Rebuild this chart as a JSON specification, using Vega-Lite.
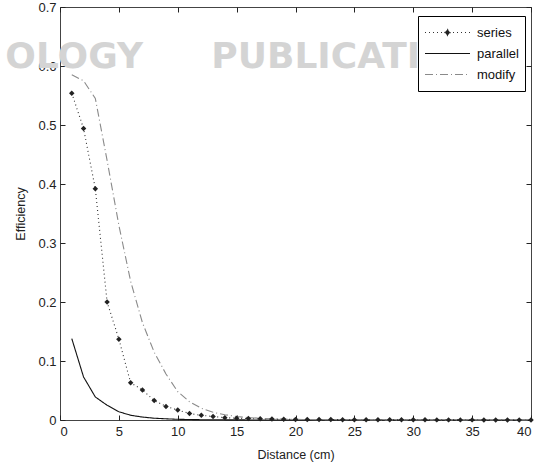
{
  "$schema": "https://vega.github.io/schema/vega-lite/v6.json",
  "width": 471,
  "height": 413,
  "autosize": "none",
  "padding": {"left": 60, "top": 7, "right": 8, "bottom": 45},
  "background": "white",
  "config": {
    "view": {"stroke": "#444", "strokeWidth": 1},
    "font": "Liberation Sans",
    "axis": {"grid": false, "domain": false, "tickColor": "#222", "tickWidth": 1, "labelColor": "#222", "titleColor": "#222", "labelFont": "Liberation Sans", "titleFont": "Liberation Sans", "titleFontWeight": "normal"}
  },
  "data": {"values": [
    {"d":1,"e":0.554,"k":"series"},{"d":2,"e":0.494,"k":"series"},{"d":3,"e":0.392,"k":"series"},{"d":4,"e":0.2,"k":"series"},{"d":5,"e":0.137,"k":"series"},{"d":6,"e":0.063,"k":"series"},{"d":7,"e":0.051,"k":"series"},{"d":8,"e":0.033,"k":"series"},{"d":9,"e":0.023,"k":"series"},{"d":10,"e":0.017,"k":"series"},
    {"d":11,"e":0.011,"k":"series"},{"d":12,"e":0.008,"k":"series"},{"d":13,"e":0.006,"k":"series"},{"d":14,"e":0.004,"k":"series"},{"d":15,"e":0.003,"k":"series"},{"d":16,"e":0.0025,"k":"series"},{"d":17,"e":0.002,"k":"series"},{"d":18,"e":0.0016,"k":"series"},{"d":19,"e":0.0013,"k":"series"},{"d":20,"e":0.001,"k":"series"},
    {"d":21,"e":0.0009,"k":"series"},{"d":22,"e":0.0008,"k":"series"},{"d":23,"e":0.0007,"k":"series"},{"d":24,"e":0.0006,"k":"series"},{"d":25,"e":0.0005,"k":"series"},{"d":26,"e":0.0005,"k":"series"},{"d":27,"e":0.0004,"k":"series"},{"d":28,"e":0.0004,"k":"series"},{"d":29,"e":0.0003,"k":"series"},{"d":30,"e":0.0003,"k":"series"},
    {"d":31,"e":0.0003,"k":"series"},{"d":32,"e":0.0002,"k":"series"},{"d":33,"e":0.0002,"k":"series"},{"d":34,"e":0.0002,"k":"series"},{"d":35,"e":0.0002,"k":"series"},{"d":36,"e":0.0001,"k":"series"},{"d":37,"e":0.0001,"k":"series"},{"d":38,"e":0.0001,"k":"series"},{"d":39,"e":0.0001,"k":"series"},{"d":40,"e":0.0001,"k":"series"},
    {"d":1,"e":0.138,"k":"parallel"},{"d":2,"e":0.073,"k":"parallel"},{"d":3,"e":0.039,"k":"parallel"},{"d":4,"e":0.025,"k":"parallel"},{"d":5,"e":0.014,"k":"parallel"},{"d":6,"e":0.008,"k":"parallel"},{"d":7,"e":0.005,"k":"parallel"},{"d":8,"e":0.003,"k":"parallel"},{"d":9,"e":0.002,"k":"parallel"},{"d":10,"e":0.0012,"k":"parallel"},
    {"d":11,"e":0.0008,"k":"parallel"},{"d":12,"e":0.0005,"k":"parallel"},{"d":13,"e":0.0004,"k":"parallel"},{"d":14,"e":0.0003,"k":"parallel"},{"d":15,"e":0.0002,"k":"parallel"},{"d":16,"e":0.0001,"k":"parallel"},{"d":17,"e":0.0001,"k":"parallel"},{"d":18,"e":0.0001,"k":"parallel"},{"d":19,"e":0.0001,"k":"parallel"},{"d":20,"e":0.0001,"k":"parallel"},
    {"d":21,"e":0,"k":"parallel"},{"d":22,"e":0,"k":"parallel"},{"d":23,"e":0,"k":"parallel"},{"d":24,"e":0,"k":"parallel"},{"d":25,"e":0,"k":"parallel"},{"d":26,"e":0,"k":"parallel"},{"d":27,"e":0,"k":"parallel"},{"d":28,"e":0,"k":"parallel"},{"d":29,"e":0,"k":"parallel"},{"d":30,"e":0,"k":"parallel"},
    {"d":31,"e":0,"k":"parallel"},{"d":32,"e":0,"k":"parallel"},{"d":33,"e":0,"k":"parallel"},{"d":34,"e":0,"k":"parallel"},{"d":35,"e":0,"k":"parallel"},{"d":36,"e":0,"k":"parallel"},{"d":37,"e":0,"k":"parallel"},{"d":38,"e":0,"k":"parallel"},{"d":39,"e":0,"k":"parallel"},{"d":40,"e":0,"k":"parallel"},
    {"d":1,"e":0.585,"k":"modify"},{"d":2,"e":0.575,"k":"modify"},{"d":3,"e":0.545,"k":"modify"},{"d":4,"e":0.44,"k":"modify"},{"d":5,"e":0.33,"k":"modify"},{"d":6,"e":0.235,"k":"modify"},{"d":7,"e":0.165,"k":"modify"},{"d":8,"e":0.115,"k":"modify"},{"d":9,"e":0.078,"k":"modify"},{"d":10,"e":0.048,"k":"modify"},
    {"d":11,"e":0.031,"k":"modify"},{"d":12,"e":0.02,"k":"modify"},{"d":13,"e":0.013,"k":"modify"},{"d":14,"e":0.009,"k":"modify"},{"d":15,"e":0.006,"k":"modify"},{"d":16,"e":0.004,"k":"modify"},{"d":17,"e":0.003,"k":"modify"},{"d":18,"e":0.002,"k":"modify"},{"d":19,"e":0.0015,"k":"modify"},{"d":20,"e":0.001,"k":"modify"},
    {"d":21,"e":0.0008,"k":"modify"},{"d":22,"e":0.0006,"k":"modify"},{"d":23,"e":0.0005,"k":"modify"},{"d":24,"e":0.0004,"k":"modify"},{"d":25,"e":0.0003,"k":"modify"},{"d":26,"e":0.0002,"k":"modify"},{"d":27,"e":0.0002,"k":"modify"},{"d":28,"e":0.0002,"k":"modify"},{"d":29,"e":0.0002,"k":"modify"},{"d":30,"e":0.0001,"k":"modify"},
    {"d":31,"e":0.0001,"k":"modify"},{"d":32,"e":0.0001,"k":"modify"},{"d":33,"e":0.0001,"k":"modify"},{"d":34,"e":0.0001,"k":"modify"},{"d":35,"e":0.0001,"k":"modify"},{"d":36,"e":0.0001,"k":"modify"},{"d":37,"e":0.0001,"k":"modify"},{"d":38,"e":0.0001,"k":"modify"},{"d":39,"e":0.0001,"k":"modify"},{"d":40,"e":0.0001,"k":"modify"}
  ]},
  "layer": [
    {
      "data": {"values": [{}]},
      "mark": {"type": "text", "text": "OLOGY", "font": "DejaVu Sans", "fontWeight": "bold", "fontSize": 36, "color": "#d4d4d4", "align": "center", "baseline": "middle"},
      "encoding": {
        "x": {"datum": 1.2, "type": "quantitative", "axis": null},
        "y": {"datum": 0.615, "type": "quantitative", "axis": null}
      }
    },
    {
      "data": {"values": [{}]},
      "mark": {"type": "text", "text": "PUBLICATIONS", "font": "DejaVu Sans", "fontWeight": "bold", "fontSize": 36, "color": "#d4d4d4", "align": "center", "baseline": "middle"},
      "encoding": {
        "x": {"datum": 25.4, "type": "quantitative", "axis": null},
        "y": {"datum": 0.615, "type": "quantitative", "axis": null}
      }
    },
    {
      "mark": {"type": "line", "strokeWidth": 1.1},
      "encoding": {
        "x": {"field": "d", "type": "quantitative", "scale": {"domain": [0, 40], "nice": false}, "axis": {"orient": "bottom", "values": [0,5,10,15,20,25,30,35,40], "tickSize": -5, "labelPadding": 10, "labelFontSize": 13, "title": "Distance (cm)", "titleFontSize": 12.5, "titlePadding": 10}},
        "y": {"field": "e", "type": "quantitative", "scale": {"domain": [0, 0.7], "nice": false, "zero": true}, "axis": {"orient": "left", "values": [0,0.1,0.2,0.3,0.4,0.5,0.6,0.7], "tickSize": -5, "labelPadding": 9, "labelFontSize": 13, "labelExpr": "datum.value == 0 ? '0' : format(datum.value, '.1f')", "title": "Efficiency", "titleFontSize": 12.5, "titlePadding": 10}},
        "color": {"field": "k", "type": "nominal", "scale": {"domain": ["series", "parallel", "modify"], "range": ["#333333", "#111111", "#8a8a8a"]}, "legend": {"title": null, "orient": "none", "legendX": 358, "legendY": 9, "symbolType": "stroke", "symbolSize": 2025, "symbolStrokeWidth": 1.1, "clipHeight": 21, "labelFontSize": 13, "labelFont": "Liberation Sans", "labelColor": "#111", "strokeColor": "#000", "fillColor": "white", "padding": 6, "rowPadding": 0, "labelOffset": 6,
          "encode": {"symbols": {"update": {"shape": {"signal": "datum.value == 'series' ? 'M-1,0H1M-0.12,0L0,-0.14L0.12,0L0,0.14Z' : 'stroke'"}, "fill": {"signal": "datum.value == 'series' ? '#222' : 'transparent'"}}}}}},
        "strokeDash": {"field": "k", "type": "nominal", "scale": {"domain": ["series", "parallel", "modify"], "range": [[1, 3], [1, 0], [8, 3, 1, 3]]}, "legend": {"title": null, "orient": "none", "legendX": 358, "legendY": 9, "symbolType": "stroke", "symbolSize": 2025, "symbolStrokeWidth": 1.1, "clipHeight": 21, "labelFontSize": 13, "labelFont": "Liberation Sans", "labelColor": "#111", "strokeColor": "#000", "fillColor": "white", "padding": 6, "rowPadding": 0, "labelOffset": 6,
          "encode": {"symbols": {"update": {"shape": {"signal": "datum.value == 'series' ? 'M-1,0H1M-0.12,0L0,-0.14L0.12,0L0,0.14Z' : 'stroke'"}, "fill": {"signal": "datum.value == 'series' ? '#222' : 'transparent'"}}}}}}
      }
    },
    {
      "transform": [{"filter": "datum.k == 'series'"}],
      "mark": {"type": "point", "shape": "diamond", "filled": true, "size": 30, "color": "#222222", "opacity": 1},
      "encoding": {
        "x": {"field": "d", "type": "quantitative", "axis": null},
        "y": {"field": "e", "type": "quantitative", "axis": null}
      }
    },
    {
      "mark": {"type": "point", "opacity": 0},
      "encoding": {
        "x": {"field": "d", "type": "quantitative", "axis": {"orient": "top", "values": [0,5,10,15,20,25,30,35,40], "tickSize": -5, "labels": false, "title": null}},
        "y": {"field": "e", "type": "quantitative", "axis": {"orient": "right", "values": [0,0.1,0.2,0.3,0.4,0.5,0.6,0.7], "tickSize": -5, "labels": false, "title": null}}
      }
    }
  ],
  "resolve": {"axis": {"x": "independent", "y": "independent"}}
}
